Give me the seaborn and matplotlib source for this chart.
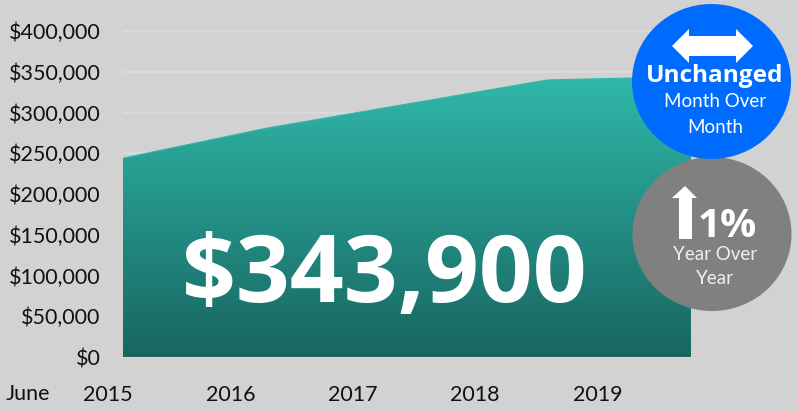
import numpy as np
import pandas as pd
import matplotlib
matplotlib.use("Agg")
import matplotlib.pyplot as plt
import matplotlib.transforms as mtransforms
from matplotlib.colors import LinearSegmentedColormap
from matplotlib.patches import Ellipse, Polygon
import seaborn as sns

# values
years = [2015.0, 2016.18, 2018.47, 2019.64]
prices = [244000, 281000, 340000, 343900]
year_ticks = [2015, 2016, 2017, 2018, 2019]
price_ticks = [0, 50000, 100000, 150000, 200000, 250000, 300000, 350000, 400000]
headline = "$343,900"

BG = "#d2d2d2"
sns.set_theme(style="white")
plt.rcParams["font.family"] = ["Lato", "DejaVu Sans"]
BOLD = ["Open Sans", "DejaVu Sans"]

df = pd.DataFrame({"year": years, "price": prices})

fig = plt.figure(figsize=(7.98, 4.12), dpi=100, facecolor=BG)
ax = fig.add_axes([123 / 798, 55 / 412, 568 / 798, 326 / 412], facecolor=BG)

ax.set_xlim(years[0], years[-1])
ax.set_ylim(0, 400000)

# gridlines stay behind the area
ax.set_yticks(price_ticks)
ax.set_yticklabels([f"${p:,}" for p in price_ticks], fontsize=15.5, color="#111111")
ax.set_xticks(year_ticks)
ax.set_xticklabels(year_ticks, fontsize=15.5, color="#111111")
ax.grid(axis="y", color="#dcdcdc", lw=1.2, clip_on=False)
ax.set_axisbelow(True)
ax.tick_params(axis="y", length=0, pad=16)
ax.tick_params(axis="x", length=0, pad=20)
sns.despine(ax=ax, left=True, bottom=True, top=True, right=True)

# year labels sit left of the tick position in the original
shift = mtransforms.ScaledTranslation(-15 / 100, 0, fig.dpi_scale_trans)
for lab in ax.get_xticklabels():
    lab.set_transform(lab.get_transform() + shift)

# area with vertical gradient
teal = LinearSegmentedColormap.from_list("teal", ["#196660", "#238f85", "#30b8aa"])
fill = ax.fill_between(df["year"], df["price"], 0, color="none", lw=0)
grad = ax.imshow(np.linspace(1, 0, 256).reshape(-1, 1), cmap=teal, aspect="auto",
                 extent=[years[0], years[-1], 0, max(prices)], zorder=2)
ax.set_xlim(years[0], years[-1])
ax.set_ylim(0, 400000)
grad.set_clip_path(fill.get_paths()[0], transform=ax.transData)
sns.lineplot(data=df, x="year", y="price", ax=ax, color="#30b8aa", lw=0.8, zorder=3)
ax.set_xlabel("")
ax.set_ylabel("")

# overlay in pixel coordinates for the badges and big number
ov = fig.add_axes([0, 0, 1, 1], facecolor="none")
ov.set_xlim(0, 798)
ov.set_ylim(412, 0)
ov.axis("off")

ov.text(50, 394, "June", ha="right", va="center", fontsize=15.5, color="#111111")
ov.text(384, 277, headline, ha="center", va="center", fontsize=68, fontweight="bold",
        family=BOLD, color="white")

ov.add_patch(Ellipse((712, 234), 159, 154, color="#808080", lw=0, zorder=3))
ov.add_patch(Ellipse((711.5, 81.5), 159, 155, color="#006cff", lw=0, zorder=4))

# double arrow
ov.add_patch(Polygon([(672, 46), (689, 29), (689, 36), (736, 36), (736, 29), (753, 46),
                      (736, 63), (736, 56), (689, 56), (689, 63)], color="white", lw=0, zorder=5))
# up arrow
ov.add_patch(Polygon([(685, 186), (697, 198), (692, 198), (692, 239), (679, 239), (679, 198), (672, 198)],
                     color="white", lw=0, zorder=5))

ov.text(715, 76, "Unchanged", ha="center", va="center", fontsize=17.6, fontweight="bold",
        family=BOLD, color="white", zorder=6)
ov.text(715, 101, "Month Over", ha="center", va="center", fontsize=13.5, color="white", zorder=6)
ov.text(715, 127, "Month", ha="center", va="center", fontsize=13.5, color="white", zorder=6)
ov.text(727, 226, "1%", ha="center", va="center", fontsize=29, fontweight="bold",
        family=BOLD, color="white", zorder=6)
ov.text(715, 254, "Year Over", ha="center", va="center", fontsize=13.5, color="#f0f0f0", zorder=6)
ov.text(715, 279, "Year", ha="center", va="center", fontsize=13.5, color="#f0f0f0", zorder=6)

fig.savefig("out.png", dpi=100, facecolor=BG)
